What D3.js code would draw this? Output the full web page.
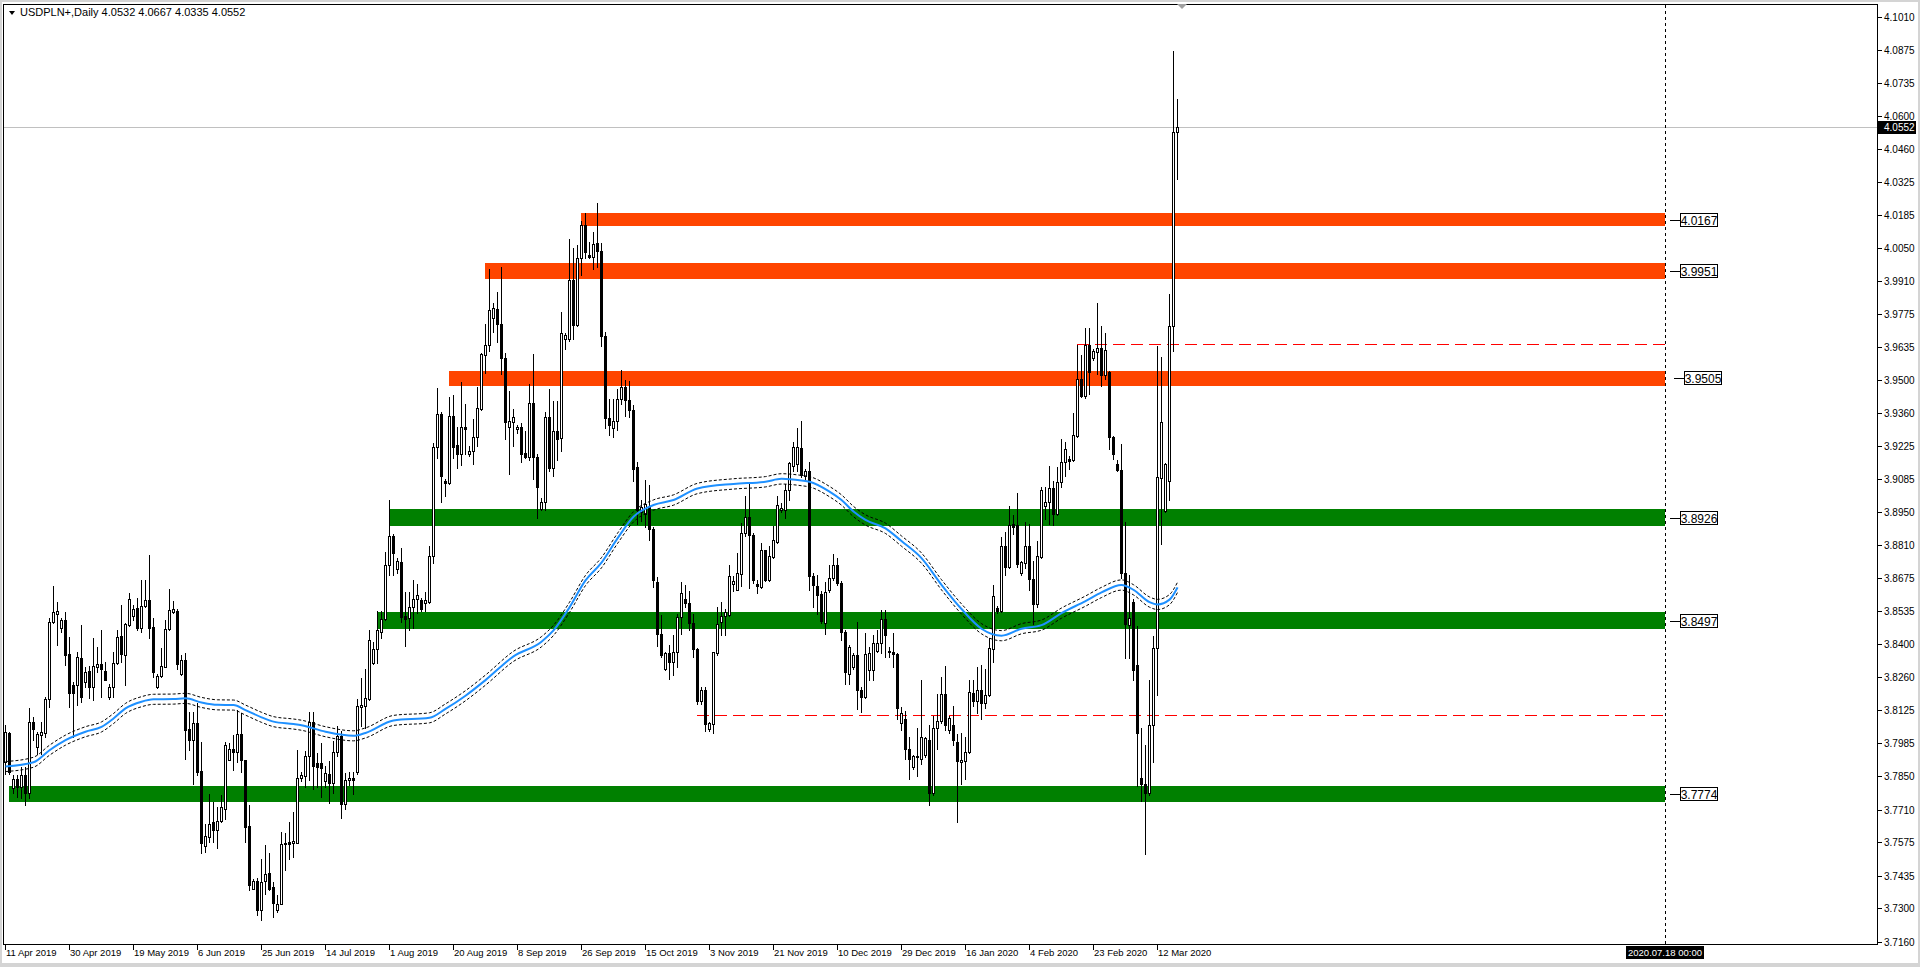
<!DOCTYPE html>
<html>
<head>
<meta charset="utf-8">
<script src="https://cdn.jsdelivr.net/npm/d3@7"></script>
<style>
html, body { margin: 0; padding: 0; background: #fff; overflow: hidden; }
svg { display: block; }
text { font-family: "Liberation Sans", Arial, sans-serif; font-size: 10px; fill: #000; }
</style>
</head>
<body>
<div class="svg"></div>
<script>
var orange = '#ff4500';
var green = '#008000';
var blue = '#1e90ff';

var width = 1920;
var height = 967;

/// data
var symbol = 'USDPLN+,Daily';
var lastBar = [4.0532, 4.0667, 4.0335, 4.0552];

var xLabels = ['11 Apr 2019', '30 Apr 2019', '19 May 2019', '6 Jun 2019', '25 Jun 2019', '14 Jul 2019',
  '1 Aug 2019', '20 Aug 2019', '8 Sep 2019', '26 Sep 2019', '15 Oct 2019', '3 Nov 2019', '21 Nov 2019',
  '10 Dec 2019', '29 Dec 2019', '16 Jan 2020', '4 Feb 2020', '23 Feb 2020', '12 Mar 2020'];
var barsPerLabel = 16;

var yTicks = [4.1010, 4.0875, 4.0735, 4.0600, 4.0460, 4.0325, 4.0185, 4.0050, 3.9910, 3.9775, 3.9635,
  3.9500, 3.9360, 3.9225, 3.9085, 3.8950, 3.8810, 3.8675, 3.8535, 3.8400, 3.8260, 3.8125, 3.7985,
  3.7850, 3.7710, 3.7575, 3.7435, 3.7300, 3.7160];

var open = [
  3.7908,3.8030,3.7798,3.7838,3.7805,3.7852,3.7777,3.8075,3.7969,3.8021,
  3.8028,3.8169,3.8493,3.8526,3.8465,3.8500,3.8357,3.8229,3.8229,3.8343,
  3.8243,3.8286,3.8222,3.8304,3.8314,3.8286,3.8180,3.8222,3.8321,3.8433,
  3.8353,3.8479,3.8517,3.8550,3.8465,3.8557,3.8581,3.8470,3.8219,3.8266,
  3.8304,3.8461,3.8533,3.8536,3.8276,3.8332,3.8044,3.8000,3.8072,3.7870,
  3.7558,3.7594,3.7658,3.7625,3.7662,3.7714,3.7918,3.7962,3.7950,3.8025,
  3.7915,3.7640,3.7381,3.7414,3.7293,3.7414,3.7445,3.7388,3.7293,3.7318,
  3.7566,3.7574,3.7572,3.7572,
  3.7843,3.7851,3.7933,3.8073,3.7903,3.7903,
  3.7827,3.7859,3.7819,3.7949,3.8016,3.7733,3.7831,3.7841,3.7865,3.8137,
  3.8140,3.8169,3.8320,3.8377,3.8449,3.8504,3.8727,3.8851,3.8711,3.8740,
  3.8516,3.8507,3.8552,3.8587,3.8584,3.8571,3.8576,3.8767,3.9221,3.9357,
  3.9077,3.9069,3.9349,3.9229,3.9190,3.9305,3.9190,3.9205,3.9261,3.9378,
  3.9604,3.9644,3.9755,3.9795,3.9731,3.9592,3.9305,3.9325,3.9294,3.9302,
  3.9193,3.9177,3.9405,3.9177,3.8963,3.8991,3.9346,3.9134,3.9286,3.9257,
  3.9668,3.9671,3.9915,3.9728,4.0005,4.0146,4.0021,4.0010,4.0070,
  4.0034,3.9680,3.9340,3.9300,3.9330,3.9420,3.9470,
  3.9415,3.9374,3.9138,3.8949,3.8942,3.8970,3.8880,3.8658,3.8442,3.8297,
  3.8360,3.8325,3.8364,3.8512,3.8586,3.8568,3.8488,3.8377,3.8161,3.8207,
  3.8046,3.8067,3.8360,3.8489,3.8514,3.8521,3.8650,3.8626,3.8692,3.8862,
  3.8928,3.8855,3.8651,3.8637,3.8789,3.8665,3.8761,3.8823,3.8959,3.8959,
  3.9041,3.9140,3.9150,3.9215,3.9098,3.9121,3.8684,3.8642,3.8608,3.8487,
  3.8625,3.8674,3.8729,3.8653,3.8450,3.8276,3.8304,3.8353,3.8208,3.8180,
  3.8293,3.8293,3.8371,3.8402,3.8502,3.8367,3.8367,3.8357,
  3.8070,3.8086,3.7960,3.7888,3.7930,3.7919,3.7938,3.7999,3.7777,3.8049,
  3.8080,3.8191,3.8040,3.8064,3.7993,3.7909,3.7913,3.7948,3.8195,3.8161,
  3.8207,3.8154,3.8185,3.8377,3.8548,3.8535,3.8807,3.8720,3.8898,3.8894,
  3.8696,3.8737,3.8807,3.8672,3.8565,3.8761,3.8975,3.8989,3.9049,3.8939,
  3.9075,3.9156,3.9170,3.9164,3.9267,3.9503,3.9431,3.9645,3.9589,3.9614,
  3.9634,3.9519,3.9533,3.9261,3.9150,3.9123,3.8696,3.8478,3.8575,3.8312,
  3.7843,3.7818,3.7777,3.8060,3.8383,3.9090,3.8954,3.9080,3.9725,4.0532];

var high = [
  3.8061,3.8033,3.7852,3.7852,3.7887,3.7887,3.8131,3.8096,3.8033,3.8075,
  3.8180,3.8507,3.8639,3.8576,3.8507,3.8533,3.8430,3.8243,3.8367,3.8479,
  3.8304,3.8307,3.8423,3.8388,3.8458,3.8325,3.8231,3.8367,3.8458,3.8562,
  3.8486,3.8611,3.8562,3.8590,3.8666,3.8666,3.8771,3.8507,3.8276,3.8381,
  3.8500,3.8627,3.8578,3.8547,3.8353,3.8360,3.8117,3.8117,3.8152,3.7992,
  3.7651,3.7774,3.7742,3.7721,3.7770,3.7992,3.7985,3.8021,3.8124,3.8110,
  3.7918,3.7728,3.7419,3.7423,3.7506,3.7562,3.7527,3.7409,3.7353,3.7618,
  3.7611,3.7658,3.7700,3.7957,
  3.7867,3.7954,3.8118,3.8118,3.7946,3.7986,
  3.7890,3.7914,3.7994,3.8059,3.8039,3.7863,3.7866,3.7866,3.8169,3.8258,
  3.8296,3.8457,3.8409,3.8536,3.8536,3.8783,3.8999,3.8856,3.8759,3.8799,
  3.8616,3.8616,3.8664,3.8648,3.8592,3.8616,3.8808,3.9237,3.9464,3.9365,
  3.9085,3.9430,3.9438,3.9302,3.9490,3.9397,3.9224,3.9337,3.9469,3.9612,
  3.9731,3.9963,3.9819,3.9867,3.9971,3.9612,3.9454,3.9378,3.9310,3.9318,
  3.9286,3.9480,3.9607,3.9190,3.9007,3.9365,3.9461,3.9410,3.9413,3.9782,
  3.9696,4.0085,4.0050,4.0059,4.0162,4.0193,4.0075,4.0117,4.0234,
  4.0070,3.9700,3.9420,3.9420,3.9460,3.9540,3.9500,
  3.9495,3.9396,3.9158,3.9000,3.9081,3.9060,3.8887,3.8679,3.8519,3.8367,
  3.8395,3.8437,3.8526,3.8659,3.8644,3.8618,3.8526,3.8381,3.8221,3.8221,
  3.8075,3.8367,3.8554,3.8575,3.8547,3.8730,3.8681,3.8779,3.8904,3.9015,
  3.9071,3.8862,3.8667,3.8820,3.8792,3.8806,3.8890,3.9015,3.8987,3.9064,
  3.9156,3.9240,3.9300,3.9327,3.9127,3.9159,3.8695,3.8688,3.8618,3.8659,
  3.8730,3.8775,3.8757,3.8660,3.8457,3.8395,3.8360,3.8493,3.8222,3.8444,
  3.8388,3.8437,3.8458,3.8539,3.8539,3.8388,3.8447,3.8360,
  3.8139,3.8120,3.8010,3.7938,3.8049,3.8251,3.8010,3.8060,3.8100,3.8191,
  3.8262,3.8307,3.8100,3.8140,3.8024,3.8030,3.8010,3.8251,3.8251,3.8302,
  3.8312,3.8296,3.8423,3.8645,3.8556,3.8847,3.8867,3.8974,3.8935,3.9028,
  3.8747,3.8907,3.8901,3.8747,3.8827,3.9055,3.9055,3.9140,3.9080,3.9136,
  3.9251,3.9241,3.9181,3.9362,3.9645,3.9604,3.9715,3.9715,3.9628,3.9820,
  3.9725,3.9695,3.9538,3.9266,3.9164,3.9232,3.8907,3.8686,3.8585,3.8474,
  3.8049,3.7979,3.8251,3.8433,3.9640,3.9594,3.9155,3.9857,4.0869,4.0667];

var low = [
  3.7859,3.7859,3.7777,3.7763,3.7756,3.7728,3.7756,3.7998,3.7943,3.7943,
  3.8012,3.8138,3.8486,3.8395,3.8451,3.8311,3.8138,3.8012,3.8145,3.8159,
  3.8222,3.8176,3.8166,3.8283,3.8180,3.8248,3.8169,3.8180,3.8318,3.8325,
  3.8229,3.8475,3.8500,3.8458,3.8451,3.8552,3.8423,3.8262,3.8215,3.8262,
  3.8302,3.8458,3.8529,3.8297,3.8272,3.7922,3.7957,3.7817,3.7852,3.7527,
  3.7534,3.7576,3.7576,3.7548,3.7658,3.7672,3.7915,3.7873,3.7908,3.7866,
  3.7576,3.7374,3.7377,3.7269,3.7248,3.7360,3.7374,3.7262,3.7283,3.7315,
  3.7457,3.7506,3.7513,3.7569,
  3.7827,3.7803,3.7833,3.7795,3.7803,3.7763,
  3.7803,3.7739,3.7779,3.7931,3.7673,3.7713,3.7811,3.7773,3.7857,3.8057,
  3.8049,3.8165,3.8318,3.8320,3.8425,3.8498,3.8687,3.8687,3.8695,3.8489,
  3.8393,3.8457,3.8465,3.8528,3.8536,3.8536,3.8568,3.8735,3.9174,3.8991,
  3.9015,3.9064,3.9174,3.9134,3.9145,3.9190,3.9182,3.9150,3.9224,3.9373,
  3.9527,3.9620,3.9699,3.9659,3.9524,3.9253,3.9109,3.9224,3.9278,3.9158,
  3.9174,3.9166,3.9085,3.8926,3.8959,3.8959,3.9118,3.9101,3.9166,3.9205,
  3.9628,3.9660,3.9671,3.9723,3.9936,4.0005,4.0005,3.9963,3.9971,
  3.9640,3.9300,3.9270,3.9260,3.9290,3.9400,3.9350,
  3.9345,3.9078,3.8901,3.8911,3.8887,3.8832,3.8637,3.8392,3.8345,3.8290,
  3.8255,3.8269,3.8304,3.8442,3.8555,3.8456,3.8345,3.8150,3.8150,3.8039,
  3.8039,3.8027,3.8353,3.8437,3.8437,3.8514,3.8619,3.8626,3.8640,3.8848,
  3.8633,3.8654,3.8612,3.8633,3.8661,3.8661,3.8757,3.8820,3.8948,3.8924,
  3.9001,3.9120,3.9118,3.9095,3.9088,3.8625,3.8553,3.8525,3.8487,3.8442,
  3.8614,3.8667,3.8646,3.8414,3.8234,3.8234,3.8297,3.8130,3.8116,3.8173,
  3.8248,3.8248,3.8367,3.8360,3.8346,3.8346,3.8304,3.8089,
  3.8040,3.7919,3.7838,3.7878,3.7848,3.7898,3.7929,3.7727,3.7770,3.7960,
  3.8070,3.8040,3.8030,3.7979,3.7657,3.7818,3.7838,3.7944,3.8140,3.8111,
  3.8087,3.8131,3.8181,3.8323,3.8530,3.8531,3.8686,3.8716,3.8858,3.8720,
  3.8686,3.8716,3.8626,3.8484,3.8554,3.8757,3.8918,3.8898,3.8894,3.8935,
  3.9055,3.9099,3.9130,3.9160,3.9261,3.9428,3.9425,3.9442,3.9583,3.9523,
  3.9472,3.9503,3.9210,3.9170,3.9119,3.8676,3.8343,3.8343,3.8251,3.7808,
  3.7746,3.7524,3.7770,3.7909,3.8187,3.8816,3.8950,3.8999,3.9620,4.0335];

var close = [
  3.8033,3.7866,3.7838,3.7805,3.7852,3.7777,3.8075,3.8047,3.8023,3.8031,
  3.8169,3.8493,3.8533,3.8538,3.8500,3.8353,3.8194,3.8194,3.8346,3.8177,
  3.8283,3.8222,3.8307,3.8314,3.8297,3.8251,3.8222,3.8321,3.8427,3.8357,
  3.8482,3.8585,3.8547,3.8465,3.8557,3.8581,3.8465,3.8283,3.8266,3.8307,
  3.8461,3.8543,3.8545,3.8314,3.8332,3.8040,3.8000,3.8072,3.7866,3.7572,
  3.7600,3.7651,3.7625,3.7661,3.7721,3.7978,3.7964,3.7950,3.8026,3.7918,
  3.7637,3.7395,3.7414,3.7293,3.7409,3.7442,3.7381,3.7321,3.7318,3.7566,
  3.7572,3.7566,3.7579,3.7842,
  3.7855,3.7933,3.8073,3.7890,3.7886,3.7885,
  3.7862,3.7819,3.7949,3.8016,3.7733,3.7831,3.7841,3.7831,3.8140,3.8145,
  3.8173,3.8417,3.8377,3.8457,3.8504,3.8730,3.8851,3.8779,3.8746,3.8512,
  3.8504,3.8552,3.8587,3.8603,3.8544,3.8581,3.8767,3.9221,3.9357,3.9101,
  3.9071,3.9349,3.9221,3.9190,3.9302,3.9294,3.9205,3.9261,3.9381,3.9607,
  3.9644,3.9792,3.9798,3.9731,3.9589,3.9325,3.9328,3.9346,3.9302,3.9190,
  3.9177,3.9405,3.9177,3.9054,3.8991,3.9346,3.9134,3.9286,3.9253,3.9696,
  3.9686,3.9915,3.9728,4.0005,4.0146,4.0031,4.0009,4.0067,4.0034,
  3.9680,3.9340,3.9310,3.9330,3.9420,3.9470,3.9415,
  3.9374,3.9130,3.8956,3.8970,3.8984,3.8880,3.8665,3.8442,3.8352,3.8360,
  3.8325,3.8367,3.8512,3.8612,3.8569,3.8488,3.8377,3.8161,3.8207,3.8067,
  3.8070,3.8364,3.8484,3.8514,3.8531,3.8683,3.8660,3.8695,3.8862,3.8928,
  3.8855,3.8667,3.8642,3.8789,3.8667,3.8764,3.8831,3.8980,3.8965,3.9041,
  3.9153,3.9218,3.9218,3.9102,3.9121,3.8681,3.8646,3.8604,3.8496,3.8614,
  3.8674,3.8729,3.8653,3.8450,3.8283,3.8388,3.8353,3.8208,3.8180,3.8357,
  3.8360,3.8405,3.8405,3.8502,3.8436,3.8370,3.8357,3.8131,
  3.8110,3.7960,3.7919,3.7932,3.7932,3.8013,3.8006,3.7777,3.8049,3.8080,
  3.8191,3.8060,3.8090,3.7999,3.7913,3.7916,3.7948,3.8201,3.8161,3.8207,
  3.8154,3.8185,3.8383,3.8599,3.8538,3.8807,3.8720,3.8894,3.8888,3.8733,
  3.8741,3.8807,3.8672,3.8565,3.8767,3.9039,3.8989,3.9049,3.8939,3.9075,
  3.9156,3.9211,3.9160,3.9271,3.9503,3.9431,3.9645,3.9533,3.9620,3.9634,
  3.9519,3.9624,3.9261,3.9191,3.9123,3.8696,3.8484,3.8508,3.8292,3.8030,
  3.7818,3.7777,3.8060,3.8383,3.9096,3.9325,3.9150,3.9725,4.0530,4.0552];

// moving average (bar index, value)
var maBar = [0,7,11,15,20,24,27,30,34,37,42,45,49,53,57,60,64,67,72,74,80,87,90,97,106,110,115,120,127,134,
  137,141,145,149,153,157,162,167,173,182,190,194,199,201,206,209,212,215,220,224,229,234,239,244,249,254,
  259,264,270,274,279,282,286,288,291,293];
var maValue = [3.7889,3.7907,3.7957,3.7999,3.8034,3.8054,3.8089,3.8131,3.8159,3.8169,3.8170,3.8173,3.8156,
  3.8146,3.8145,3.8124,3.8094,3.8076,3.8066,3.8061,3.8034,3.8017,3.8029,3.8081,3.8092,3.8129,3.8184,3.8249,
  3.8348,3.8409,3.8456,3.8552,3.8664,3.8738,3.8839,3.8929,3.8978,3.8999,3.9047,3.9066,3.9075,3.9087,3.9080,
  3.9075,3.9034,3.8999,3.8951,3.8916,3.8881,3.8828,3.8757,3.8646,3.8545,3.8463,3.8434,3.8463,3.8478,3.8528,
  3.8578,3.8614,3.8645,3.8625,3.8574,3.8564,3.8584,3.8635];
var envelopePct = 0.00055;

// zones: label price, top, bottom, first bar, kind
var zonePrice = [4.0167, 3.9951, 3.9505, 3.8926, 3.8497, 3.7774];
var zoneTop = [4.0195, 3.9984, 3.9537, 3.8960, 3.8533, 3.7806];
var zoneBottom = [4.0138, 3.9918, 3.9472, 3.8892, 3.8460, 3.7740];
var zoneFrom = [144, 120, 111, 96, 93, 1];
var zoneKind = ['res', 'res', 'res', 'sup', 'sup', 'sup'];

var levelPrice = [3.9649, 3.8103];
var levelFrom = [268, 173];

var endBar = 415;
var endLabel = '2020.07.18 00:00';
var bid = 4.0552;

/// scales
var x = d3.scaleLinear().domain([0, endBar]).range([5, 1665]);
var y = d3.scaleLinear().domain([3.7160, 4.1010]).range([941.6, 17.1]);

var svg = d3.select('.svg').append('svg')
  .attr('width', width)
  .attr('height', height);

/// window frame
svg.append('rect').attr('x', 0).attr('y', 0).attr('width', width).attr('height', height).attr('fill', '#d4d4d4');
svg.append('rect').attr('x', 2).attr('y', 2).attr('width', width - 4).attr('height', height - 6).attr('fill', '#fff');

var plot = svg.append('g').attr('shape-rendering', 'crispEdges');

/// zones
zonePrice.forEach(function(p, i) {
  plot.append('rect')
    .attr('x', Math.round(x(zoneFrom[i])))
    .attr('y', Math.round(y(zoneTop[i])))
    .attr('width', Math.round(x(endBar)) - Math.round(x(zoneFrom[i])))
    .attr('height', Math.round(y(zoneBottom[i])) - Math.round(y(zoneTop[i])))
    .attr('fill', zoneKind[i] === 'res' ? orange : green);
});

/// horizontal levels
levelPrice.forEach(function(p, i) {
  plot.append('line')
    .attr('x1', x(levelFrom[i])).attr('x2', x(endBar))
    .attr('y1', Math.round(y(p)) + 0.5).attr('y2', Math.round(y(p)) + 0.5)
    .attr('stroke', '#ff0000')
    .attr('stroke-dasharray', '12,6');
});

/// bid line
plot.append('line')
  .attr('x1', 4).attr('x2', 1877)
  .attr('y1', Math.round(y(bid)) + 0.5).attr('y2', Math.round(y(bid)) + 0.5)
  .attr('stroke', '#c0c0c0');

/// time marker
plot.append('line')
  .attr('x1', x(endBar) + 0.5).attr('x2', x(endBar) + 0.5)
  .attr('y1', 5).attr('y2', 944)
  .attr('stroke', '#000')
  .attr('stroke-dasharray', '3,3');

/// moving average + envelopes
var maData = maBar.map(function(b, i) { return {bar: b, v: maValue[i]}; });
var maLine = function(k) {
  return d3.line()
    .x(function(d) { return x(d.bar) + 0.5; })
    .y(function(d) { return y(d.v * k); })
    .curve(d3.curveMonotoneX);
};
var maG = svg.append('g');
maG.append('path').attr('d', maLine(1 + envelopePct)(maData))
  .attr('fill', 'none').attr('stroke', '#000').attr('stroke-width', 1).attr('stroke-dasharray', '3,2');
maG.append('path').attr('d', maLine(1 - envelopePct)(maData))
  .attr('fill', 'none').attr('stroke', '#000').attr('stroke-width', 1).attr('stroke-dasharray', '3,2');
maG.append('path').attr('d', maLine(1)(maData))
  .attr('fill', 'none').attr('stroke', blue).attr('stroke-width', 2);

/// candles
var bars = d3.range(close.length).map(function(i) {
  return {i: i, o: open[i], h: high[i], l: low[i], c: close[i]};
});

var candle = plot.selectAll('.candle')
  .data(bars)
  .enter().append('g')
  .attr('class', 'candle');

candle.append('line')
  .attr('x1', function(d) { return Math.round(x(d.i)) + 0.5; })
  .attr('x2', function(d) { return Math.round(x(d.i)) + 0.5; })
  .attr('y1', function(d) { return Math.round(y(d.h)); })
  .attr('y2', function(d) { return Math.round(y(d.l)) + 1; })
  .attr('stroke', '#000');

candle.append('rect')
  .attr('x', function(d) { return Math.round(x(d.i)) - 0.5; })
  .attr('y', function(d) { return Math.round(y(Math.max(d.o, d.c))) + 0.5; })
  .attr('width', 2)
  .attr('height', function(d) {
    return Math.max(1, Math.round(y(Math.min(d.o, d.c))) - Math.round(y(Math.max(d.o, d.c))));
  })
  .attr('fill', function(d) { return d.c >= d.o ? '#fff' : '#000'; })
  .attr('stroke', '#000');

/// zone labels (the 3.9505 one sits a little further right in the original)
zonePrice.forEach(function(p, i) {
  var yy = Math.round(y(p));
  var dx = p === 3.9505 ? 4 : 0;
  plot.append('line').attr('x1', 1670 + dx).attr('x2', 1680 + dx)
    .attr('y1', yy + 0.5).attr('y2', yy + 0.5).attr('stroke', '#000');
  plot.append('rect').attr('x', 1680.5 + dx).attr('y', yy - 6.5).attr('width', 37).attr('height', 13)
    .attr('fill', '#fff').attr('stroke', '#000');
  svg.append('text').attr('x', 1699 + dx).attr('y', yy + 4.5)
    .attr('text-anchor', 'middle').style('font-size', '12px')
    .text(p.toFixed(4));
});

/// plot frame
svg.append('rect')
  .attr('x', 3.5).attr('y', 4.5).attr('width', 1874).attr('height', 940)
  .attr('fill', 'none').attr('stroke', '#000').attr('shape-rendering', 'crispEdges');

/// right axis
var yAxis = svg.append('g').attr('shape-rendering', 'crispEdges');
yTicks.forEach(function(t) {
  var yy = Math.round(y(t));
  yAxis.append('line').attr('x1', 1878).attr('x2', 1882)
    .attr('y1', yy + 0.5).attr('y2', yy + 0.5).attr('stroke', '#000');
  svg.append('text').attr('x', 1884).attr('y', yy + 4).text(t.toFixed(4));
});

// bid label
svg.append('rect').attr('x', 1878).attr('y', Math.round(y(bid)) - 6).attr('width', 38).attr('height', 13)
  .attr('fill', '#000');
svg.append('text').attr('x', 1884).attr('y', Math.round(y(bid)) + 4).style('fill', '#fff').text(bid.toFixed(4));

/// bottom axis
xLabels.forEach(function(lbl, k) {
  var xx = Math.round(x(k * barsPerLabel));
  svg.append('line').attr('x1', xx + 0.5).attr('x2', xx + 0.5).attr('y1', 945).attr('y2', 950)
    .attr('stroke', '#000').attr('shape-rendering', 'crispEdges');
  svg.append('text').attr('x', xx + 1).attr('y', 956).style('font-size', '9.5px').text(lbl);
});

// end-of-range label
var ex = Math.round(x(endBar));
svg.append('rect').attr('x', ex - 39).attr('y', 946).attr('width', 78).attr('height', 13).attr('fill', '#000');
svg.append('text').attr('x', ex).attr('y', 956).attr('text-anchor', 'middle')
  .style('fill', '#fff').style('font-size', '9.5px').text(endLabel);

/// header
svg.append('path').attr('d', 'M9,11 L15,11 L12,15 Z').attr('fill', '#000');
svg.append('text').attr('x', 20).attr('y', 16).style('font-size', '11px')
  .text(symbol + '  ' + lastBar.map(function(v) { return v.toFixed(4); }).join(' '));

// chart shift marker
svg.append('path').attr('d', 'M1177,4 L1187,4 L1182,9 Z').attr('fill', '#a0a0a0');
</script>
</body>
</html>
